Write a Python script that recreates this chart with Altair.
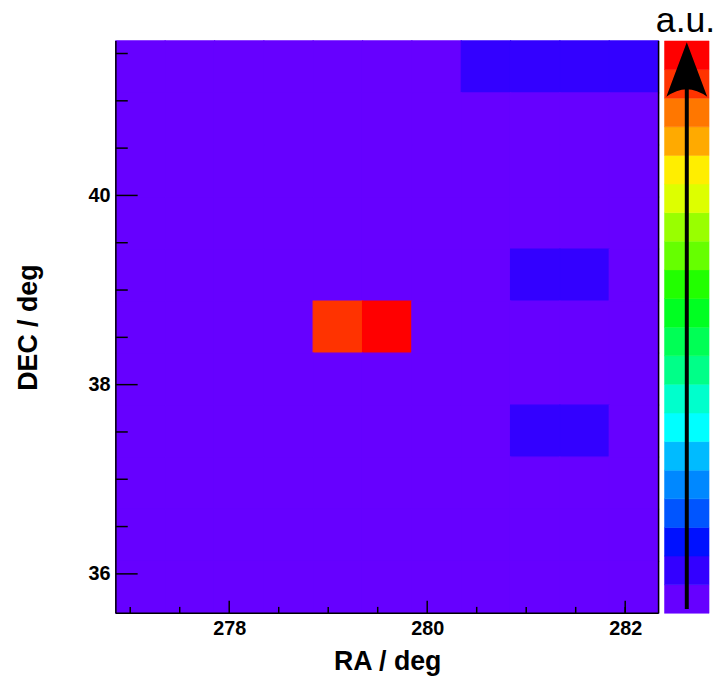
import altair as alt
import pandas as pd

# ---- data -------------------------------------------------------------
ra_edges = [276.855, 277.353, 277.852, 278.350, 278.848, 279.347, 279.845,
            280.344, 280.842, 281.340, 281.839, 282.337]
dec_edges = [35.583, 36.133, 36.683, 37.233, 37.783, 38.333, 38.883,
             39.433, 39.983, 40.533, 41.083, 41.633]

# intensity (a.u.), rows listed from top (highest DEC) to bottom
intensity_rows = [
    [0.4, 0.4, 0.4, 0.4, 0.4, 0.4, 0.4, 1.4, 1.4, 1.4, 1.4],
    [0.4, 0.4, 0.4, 0.4, 0.4, 0.4, 0.4, 0.4, 0.4, 0.4, 0.4],
    [0.4, 0.4, 0.4, 0.4, 0.4, 0.4, 0.4, 0.4, 0.4, 0.4, 0.4],
    [0.4, 0.4, 0.4, 0.4, 0.4, 0.4, 0.4, 0.4, 0.4, 0.4, 0.4],
    [0.4, 0.4, 0.4, 0.4, 0.4, 0.4, 0.4, 0.4, 1.3, 1.3, 0.4],
    [0.4, 0.4, 0.4, 0.4, 18.6, 19.6, 0.4, 0.4, 0.4, 0.4, 0.4],
    [0.4, 0.4, 0.4, 0.4, 0.4, 0.4, 0.4, 0.4, 0.4, 0.4, 0.4],
    [0.4, 0.4, 0.4, 0.4, 0.4, 0.4, 0.4, 0.4, 1.2, 1.2, 0.4],
    [0.4, 0.4, 0.4, 0.4, 0.4, 0.4, 0.4, 0.4, 0.4, 0.4, 0.4],
    [0.4, 0.4, 0.4, 0.4, 0.4, 0.4, 0.4, 0.4, 0.4, 0.4, 0.4],
    [0.4, 0.4, 0.4, 0.4, 0.4, 0.4, 0.4, 0.4, 0.4, 0.4, 0.4],
]

palette = ["#6600ff", "#3300ff", "#0011ff", "#0055ff", "#0088ff",
           "#00bbff", "#00ffff", "#00ffcc", "#00ff88", "#00ff55",
           "#00ff22", "#22ff00", "#66ff00", "#99ff00", "#ddff00",
           "#ffee00", "#ffaa00", "#ff7700", "#ff3300", "#ff0000"]
levels = list(range(20))
thresholds = list(range(1, 20))

ra_major = [278, 280, 282]
ra_minor = [277, 277.5, 278.5, 279, 279.5, 280.5, 281, 281.5, 282]
dec_major = [36, 38, 40]
dec_minor = [36.5, 37, 37.5, 38.5, 39, 39.5, 40.5, 41, 41.5]

# ---- layout / style ---------------------------------------------------
W, H = 548, 578
CB_W = 45
FONT = "Liberation Sans"

ra_lo, ra_hi = ra_edges[0], ra_edges[-1]
dec_lo, dec_hi = dec_edges[0], dec_edges[-1]
px_ra = W / (ra_hi - ra_lo)
px_dec = H / (dec_hi - dec_lo)

# ---- tables -----------------------------------------------------------
cells = []
n = len(intensity_rows)
for r, row in enumerate(intensity_rows):
    j = n - 1 - r
    for i, v in enumerate(row):
        cells.append({"ra0": ra_edges[i], "ra1": ra_edges[i + 1],
                      "dec0": dec_edges[j], "dec1": dec_edges[j + 1],
                      "val": v})
cells = pd.DataFrame(cells)
floor_val = float(cells["val"].min())
backdrop = pd.DataFrame([{"ra0": ra_lo, "ra1": ra_hi, "dec0": dec_lo,
                          "dec1": dec_hi, "val": floor_val}])

ticks = []
for v in ra_major:
    ticks.append({"x": v, "x2": v, "y": dec_lo, "y2": dec_lo + 12.7 / px_dec})
for v in ra_minor:
    ticks.append({"x": v, "x2": v, "y": dec_lo, "y2": dec_lo + 6.5 / px_dec})
for v in dec_major:
    ticks.append({"x": ra_lo, "x2": ra_lo + 22 / px_ra, "y": v, "y2": v})
for v in dec_minor:
    ticks.append({"x": ra_lo, "x2": ra_lo + 12 / px_ra, "y": v, "y2": v})
ticks = pd.DataFrame(ticks)

frame = pd.DataFrame([
    {"x": ra_lo, "x2": ra_lo, "y": dec_lo, "y2": dec_hi},
    {"x": ra_hi, "x2": ra_hi, "y": dec_lo, "y2": dec_hi},
    {"x": ra_lo, "x2": ra_hi, "y": dec_lo, "y2": dec_lo},
])

xs = alt.Scale(domain=[ra_lo, ra_hi], nice=False, zero=False)
ys = alt.Scale(domain=[dec_lo, dec_hi], nice=False, zero=False)
cs = alt.Scale(type="threshold", domain=thresholds, range=palette)

x_axis = alt.Axis(values=ra_major, format="d", grid=False, ticks=False,
                  tickSize=0, domain=False, labelFont=FONT,
                  labelFontSize=20, labelFontWeight="bold",
                  labelColor="black", labelPadding=5,
                  titleFont=FONT, titleFontSize=27,
                  titleFontWeight="bold", titleColor="black",
                  titlePadding=11)
y_axis = alt.Axis(values=dec_major, format="d", grid=False, ticks=False,
                  tickSize=0, domain=False, labelFont=FONT,
                  labelFontSize=20, labelFontWeight="bold",
                  labelColor="black", labelPadding=6,
                  titleFont=FONT, titleFontSize=27,
                  titleFontWeight="bold", titleColor="black",
                  titlePadding=46)

back = alt.Chart(backdrop).mark_rect(strokeWidth=0).encode(
    x=alt.X("ra0:Q", scale=xs, title="RA / deg", axis=x_axis),
    x2="ra1:Q",
    y=alt.Y("dec0:Q", scale=ys, title="DEC / deg", axis=y_axis),
    y2="dec1:Q",
    color=alt.Color("val:Q", scale=cs, legend=None),
)

heat = alt.Chart(cells).mark_rect(strokeWidth=1.2).encode(
    x=alt.X("ra0:Q", scale=xs), x2="ra1:Q",
    y=alt.Y("dec0:Q", scale=ys), y2="dec1:Q",
    color=alt.Color("val:Q", scale=cs, legend=None),
    stroke=alt.Color("val:Q", scale=cs, legend=None),
)

tick_layer = alt.Chart(ticks).mark_rule(color="black", strokeWidth=1.5).encode(
    x=alt.X("x:Q", scale=xs), x2="x2:Q",
    y=alt.Y("y:Q", scale=ys), y2="y2:Q")

frame_layer = alt.Chart(frame).mark_rule(color="black", strokeWidth=1.5).encode(
    x=alt.X("x:Q", scale=xs), x2="x2:Q",
    y=alt.Y("y:Q", scale=ys), y2="y2:Q")

main = alt.layer(back, heat, tick_layer, frame_layer).properties(
    width=W, height=H)

# ---- colour bar ---------------------------------------------------------
cb = pd.DataFrame({"lvl": levels, "lo": levels,
                   "hi": [l + 1 for l in levels],
                   "x0": [0] * 20, "x1": [1] * 20})
cbx = alt.Scale(domain=[0, 1], nice=False, zero=False)
cby = alt.Scale(domain=[0, 20], nice=False, zero=False)

cb_rects = alt.Chart(cb).mark_rect(strokeWidth=0.5).encode(
    x=alt.X("x0:Q", scale=cbx, axis=None), x2="x1:Q",
    y=alt.Y("lo:Q", scale=cby, axis=None), y2="hi:Q",
    color=alt.Color("lvl:O", scale=alt.Scale(domain=levels, range=palette),
                    legend=None),
    stroke=alt.Color("lvl:O", scale=alt.Scale(domain=levels, range=palette),
                     legend=None),
)

arrow_line = alt.Chart(pd.DataFrame({"x": [0.5], "y": [0.15], "y2": [19.2]})
                       ).mark_rule(color="black", strokeWidth=4).encode(
    x=alt.X("x:Q", scale=cbx, axis=None),
    y=alt.Y("y:Q", scale=cby, axis=None), y2="y2:Q")

arrow_head = alt.Chart(pd.DataFrame({"x": [0.5], "y": [19.0]})).mark_point(
    shape="M0,-1 L0.75,1 Q0,0.44 -0.75,1 Z", size=3025, filled=True,
    color="black", opacity=1, strokeWidth=0).encode(
    x=alt.X("x:Q", scale=cbx, axis=None),
    y=alt.Y("y:Q", scale=cby, axis=None))

colorbar = alt.layer(cb_rects, arrow_line, arrow_head).properties(
    width=CB_W, height=H)

chart = alt.hconcat(main, colorbar, spacing=4).properties(
    title=alt.TitleParams("a.u.", anchor="end", font=FONT, fontSize=36,
                          fontWeight="normal", color="black", offset=0,
                          dx=6),
    padding={"left": 14, "top": 0, "right": 0, "bottom": 2},
).configure_view(stroke=None)

chart.save("out.html", embed_options={"renderer": "svg", "actions": False})
